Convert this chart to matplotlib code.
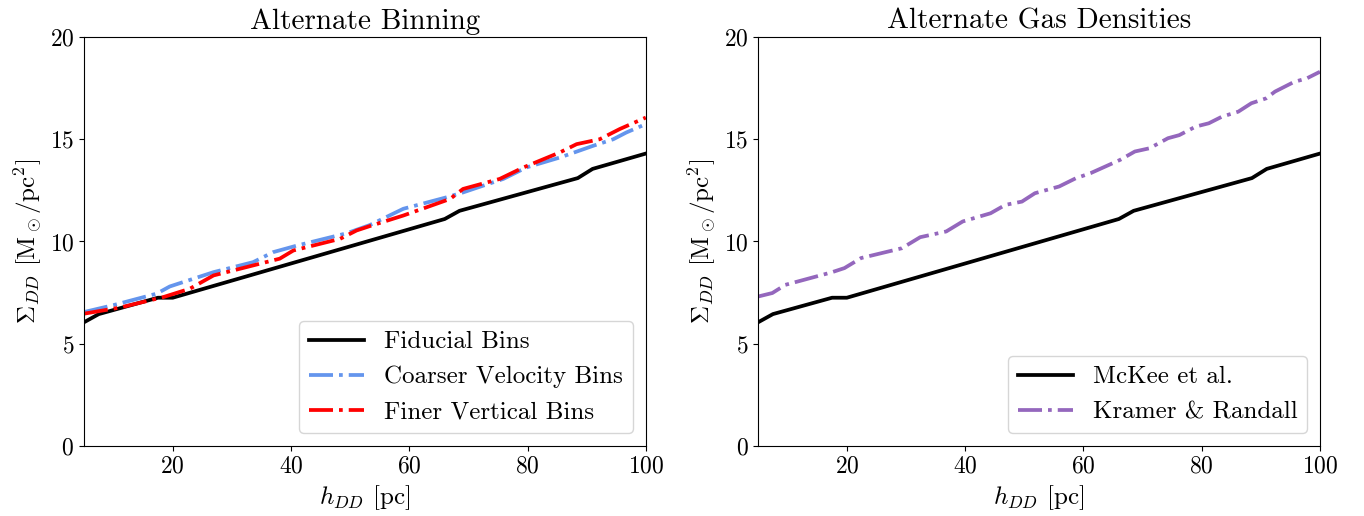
import matplotlib
matplotlib.use("Agg")
import matplotlib.pyplot as plt

plt.rcParams['font.family'] = 'serif'
plt.rcParams['font.serif'] = ['cmr10', 'DejaVu Serif']
plt.rcParams['mathtext.fontset'] = 'cm'
plt.rcParams['axes.formatter.use_mathtext'] = True

# fiducial curve (same in both panels)
h_fid = [5, 7.5, 17.5, 20, 66, 68.5, 88.5, 91, 100]
sig_fid = [6.05, 6.45, 7.25, 7.25, 11.1, 11.5, 13.1, 13.55, 14.3]

# coarser velocity bins
h_coarse = [5, 10, 17.3, 19.5, 26.9, 33.6, 37, 41, 49.4, 53.3, 59, 66.3,
            69.1, 75.9, 79.8, 85.5, 91.1, 94.5, 96.7, 100]
sig_coarse = [6.55, 6.89, 7.45, 7.8, 8.5, 8.99, 9.48, 9.8, 10.4, 10.8, 11.6,
              12.16, 12.4, 13.06, 13.62, 14.11, 14.68, 15.0, 15.33, 15.74]

# finer vertical bins
h_fine = [5, 11.1, 18.4, 22.9, 26.9, 33.6, 38.1, 40.4, 48.3, 51.1, 53.3, 59,
          66.9, 69.1, 75.3, 79.3, 85.5, 88.3, 92.2, 95.6, 100]
sig_fine = [6.47, 6.77, 7.28, 7.69, 8.34, 8.83, 9.16, 9.56, 10.13, 10.54,
            10.75, 11.27, 12.08, 12.57, 13.06, 13.62, 14.36, 14.76, 15.0,
            15.5, 16.06]

# Kramer & Randall gas densities
h_kr = [5, 7.4, 9.6, 17.4, 19.6, 22.4, 29.3, 32.4, 36.8, 39.6, 44.3, 46.8,
        49.6, 51.8, 55.9, 58.7, 61.2, 66.2, 68.7, 71.2, 74.3, 76.2, 79, 81.2,
        83.4, 86.2, 88.4, 90.9, 92.4, 95.6, 97.8, 100]
sig_kr = [7.31, 7.48, 7.88, 8.49, 8.70, 9.19, 9.67, 10.21, 10.49, 10.98,
          11.38, 11.79, 11.95, 12.36, 12.69, 13.09, 13.34, 13.99, 14.4, 14.56,
          15.05, 15.2, 15.62, 15.78, 16.1, 16.35, 16.76, 17.0, 17.33, 17.8,
          17.98, 18.3]

fig, axes = plt.subplots(1, 2, figsize=(13.64, 5.16), dpi=100)
fig.subplots_adjust(left=0.0616, right=0.9677, bottom=0.1357, top=0.9283, wspace=0.2)

lw = 2.7
ax = axes[0]
ax.plot(h_fid, sig_fid, color='black', lw=lw, label='Fiducial Bins')
ax.plot(h_coarse, sig_coarse, color='cornflowerblue', ls='-.', lw=lw, label='Coarser Velocity Bins')
ax.plot(h_fine, sig_fine, color='red', ls='-.', lw=lw, label='Finer Vertical Bins')
ax.set_title('Alternate Binning', fontsize=21)

ax2 = axes[1]
ax2.plot(h_fid, sig_fid, color='black', lw=lw, label='McKee et al.')
ax2.plot(h_kr, sig_kr, color='tab:purple', ls='-.', lw=lw, label='Kramer & Randall')
ax2.set_title('Alternate Gas Densities', fontsize=21)

for a in axes:
    a.set_xlim(5, 100)
    a.set_ylim(0, 20)
    a.set_xticks([20, 40, 60, 80, 100])
    a.set_yticks([0, 5, 10, 15, 20])
    a.tick_params(labelsize=17)
    a.set_xlabel(r'$h_{DD}$ [pc]', fontsize=18)
    a.set_ylabel(r'$\Sigma_{DD}$ [$\mathrm{M}_\odot$/pc$^2$]', fontsize=18)
    a.legend(loc='lower right', fontsize=18, handlelength=2.2)

fig.savefig('out.png', dpi=100)
